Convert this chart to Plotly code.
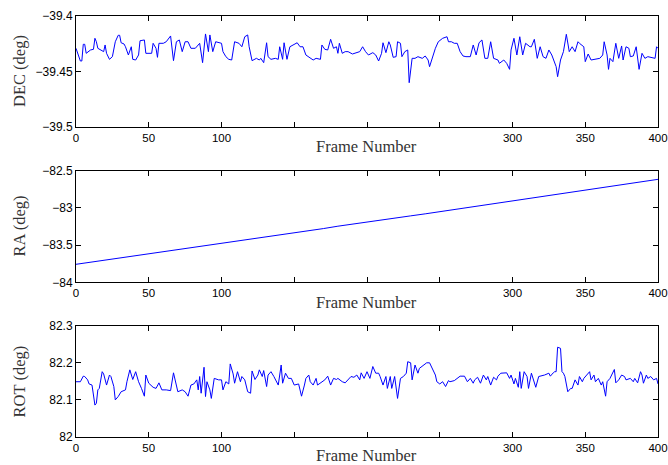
import plotly.graph_objects as go

# ---------------- data ----------------
dec_frames = [0,3,4,5,6,7,10,12,13,14,15,17,19,20,21,23,25,27,29,30,31,33,34,36,38,39,41,43,44,47,48,52,53,55,56,57,60,62,65,67,69,71,73,75,77,79,82,85,87,89,91,92,94,96,99,100,101,103,105,107,109,112,114,116,118,119,121,123,124,126,127,129,131,132,134,137,139,140,142,143,145,147,149,152,154,156,158,161,163,165,168,169,171,173,175,177,179,180,181,183,185,187,190,195,197,199,201,204,206,208,210,211,213,215,216,218,220,221,223,224,226,228,229,231,233,235,238,240,242,243,245,247,249,251,252,255,256,258,260,262,264,266,268,271,272,273,275,277,279,281,283,285,287,290,291,294,296,298,299,301,303,305,307,309,312,313,315,317,319,321,323,325,327,328,330,331,333,335,337,339,341,343,345,346,349,350,352,354,358,360,362,363,365,366,367,369,371,373,375,376,378,380,381,383,385,387,389,391,393,395,398,399,400]
dec_values = [-39.4293,-39.4407,-39.4407,-39.4257,-39.4257,-39.4338,-39.4308,-39.4302,-39.4203,-39.4234,-39.4293,-39.4308,-39.4323,-39.4263,-39.4338,-39.4392,-39.4368,-39.4234,-39.4176,-39.4176,-39.4243,-39.4254,-39.4279,-39.4353,-39.4279,-39.4392,-39.4398,-39.4353,-39.4225,-39.4218,-39.4338,-39.4338,-39.4248,-39.4293,-39.4374,-39.4248,-39.4248,-39.4234,-39.4182,-39.4404,-39.4234,-39.4218,-39.4323,-39.4234,-39.4234,-39.4293,-39.4293,-39.4248,-39.4422,-39.4164,-39.4323,-39.4173,-39.4323,-39.4234,-39.4248,-39.4248,-39.4323,-39.4368,-39.4392,-39.4398,-39.4234,-39.4248,-39.4279,-39.4189,-39.4173,-39.4279,-39.4404,-39.4392,-39.4383,-39.4398,-39.4383,-39.4422,-39.4243,-39.4368,-39.4392,-39.4383,-39.4392,-39.4279,-39.4392,-39.4243,-39.4392,-39.4279,-39.4263,-39.4243,-39.4279,-39.4279,-39.4353,-39.4383,-39.4398,-39.4383,-39.4392,-39.4263,-39.4302,-39.4308,-39.4212,-39.4293,-39.4279,-39.4338,-39.4248,-39.4338,-39.4323,-39.4323,-39.4344,-39.4323,-39.4279,-39.4323,-39.4353,-39.4332,-39.4353,-39.4407,-39.4338,-39.4243,-39.4332,-39.4234,-39.4263,-39.4374,-39.4368,-39.4234,-39.4248,-39.4368,-39.4323,-39.4308,-39.4602,-39.4383,-39.4383,-39.4368,-39.4383,-39.4362,-39.4398,-39.4458,-39.4368,-39.4293,-39.4234,-39.4212,-39.4203,-39.4189,-39.4234,-39.4234,-39.4248,-39.4248,-39.4323,-39.4362,-39.4368,-39.4368,-39.4308,-39.4263,-39.4353,-39.4243,-39.4218,-39.4383,-39.4383,-39.4234,-39.4383,-39.4398,-39.4428,-39.4398,-39.4428,-39.4482,-39.4308,-39.4203,-39.4353,-39.4189,-39.4353,-39.4248,-39.4279,-39.4279,-39.4212,-39.4383,-39.4279,-39.4368,-39.4383,-39.4308,-39.4353,-39.4392,-39.4458,-39.4548,-39.4398,-39.4323,-39.4167,-39.4323,-39.4279,-39.4323,-39.4234,-39.4248,-39.4279,-39.4413,-39.4344,-39.4398,-39.4392,-39.4383,-39.4353,-39.4234,-39.4353,-39.4482,-39.4383,-39.4413,-39.4248,-39.4383,-39.4272,-39.4398,-39.4279,-39.4293,-39.4368,-39.4362,-39.4279,-39.4482,-39.4338,-39.4383,-39.4368,-39.4374,-39.4383,-39.4279,-39.4293]

ra_frames = [0,10,20,30,40,50,60,70,80,90,100,110,120,130,140,150,160,170,180,190,200,210,220,230,240,250,260,270,280,290,300,310,320,330,340,350,360,370,380,390,400]
ra_values = [-83.758,-83.730,-83.703,-83.672,-83.650,-83.618,-83.592,-83.563,-83.536,-83.507,-83.476,-83.452,-83.420,-83.393,-83.368,-83.333,-83.305,-83.278,-83.246,-83.220,-83.190,-83.163,-83.133,-83.107,-83.080,-83.051,-83.022,-82.994,-82.964,-82.937,-82.907,-82.878,-82.849,-82.818,-82.790,-82.759,-82.730,-82.700,-82.672,-82.645,-82.616]

rot_frames = [0,3,5,6,8,9,11,13,14,15,16,18,19,21,23,24,26,27,29,31,34,35,37,38,39,41,43,45,47,48,50,53,55,57,59,62,65,67,68,70,73,75,77,79,81,83,84,85,86,88,89,90,92,93,95,98,100,101,103,105,106,108,109,111,113,114,116,118,120,121,123,125,126,128,129,131,132,134,136,137,139,141,142,144,146,148,150,153,155,157,158,160,161,163,165,166,169,171,173,175,177,179,180,183,185,187,189,191,193,195,196,198,200,202,204,206,208,209,211,213,214,216,217,219,221,223,225,227,228,230,231,233,235,236,239,241,243,245,247,248,250,252,254,256,257,260,262,264,267,269,271,273,274,276,278,280,282,283,285,287,289,290,292,294,296,298,299,301,302,304,305,306,308,310,311,313,314,316,318,320,322,325,326,328,329,330,331,333,334,335,336,338,340,341,343,345,346,348,349,351,353,354,356,357,359,361,362,364,365,367,369,370,371,373,375,377,378,381,383,384,386,388,389,390,392,393,395,397,399,400]
rot_values = [82.149,82.149,82.164,82.163,82.154,82.143,82.140,82.086,82.091,82.127,82.131,82.176,82.170,82.140,82.167,82.163,82.136,82.100,82.109,82.122,82.127,82.149,82.181,82.167,82.155,82.176,82.149,82.131,82.110,82.167,82.145,82.134,82.131,82.146,82.127,82.127,82.125,82.173,82.154,82.122,82.127,82.122,82.110,82.140,82.143,82.154,82.127,82.163,82.118,82.188,82.109,82.149,82.127,82.104,82.158,82.154,82.154,82.127,82.149,82.143,82.197,82.170,82.145,82.176,82.149,82.163,82.154,82.122,82.118,82.178,82.155,82.167,82.181,82.163,82.179,82.136,82.167,82.176,82.163,82.154,82.140,82.194,82.145,82.172,82.158,82.158,82.140,82.143,82.110,82.140,82.158,82.167,82.149,82.140,82.158,82.140,82.149,82.154,82.164,82.140,82.158,82.155,82.158,82.149,82.146,82.154,82.163,82.161,82.167,82.154,82.173,82.158,82.176,82.158,82.190,82.172,82.172,82.163,82.140,82.163,82.131,82.163,82.131,82.163,82.104,82.158,82.163,82.172,82.203,82.200,82.154,82.194,82.172,82.185,82.194,82.200,82.200,82.185,82.167,82.149,82.143,82.149,82.136,82.152,82.149,82.152,82.158,82.164,82.164,82.149,82.158,82.145,82.154,82.161,82.145,82.167,82.154,82.163,82.140,82.161,82.154,82.164,82.172,82.172,82.173,82.158,82.167,82.143,82.158,82.134,82.176,82.131,82.176,82.163,82.131,82.172,82.158,82.134,82.163,82.164,82.167,82.172,82.164,82.173,82.176,82.176,82.242,82.239,82.176,82.172,82.163,82.122,82.131,82.131,82.154,82.140,82.163,82.149,82.158,82.167,82.176,82.154,82.167,82.149,82.158,82.140,82.149,82.110,82.149,82.158,82.176,82.182,82.146,82.154,82.167,82.163,82.154,82.158,82.149,82.158,82.146,82.176,82.167,82.145,82.167,82.158,82.163,82.154,82.158,82.143]

x_tickvals = [0, 50, 100, 150, 200, 250, 300, 350, 400]
x_ticktext = ["0", "50", "100", "", "", "", "300", "350", "400"]

dec_tickvals = [-39.5, -39.45, -39.4]
dec_ticktext = ["\u221239.5", "\u221239.45", "\u221239.4"]
ra_tickvals = [-84, -83.5, -83, -82.5]
ra_ticktext = ["\u221284", "\u221283.5", "\u221283", "\u221282.5"]
rot_tickvals = [82, 82.1, 82.2, 82.3]
rot_ticktext = ["82", "82.1", "82.2", "82.3"]

y_titles = ["DEC (deg)", "RA (deg)", "ROT (deg)"]
x_title = "Frame Number"

# ---------------- figure ----------------
W, H = 668, 465
line = dict(color="#0000ff", width=1)

fig = go.Figure()
fig.add_trace(go.Scatter(x=dec_frames, y=dec_values, mode="lines", line=line, xaxis="x", yaxis="y", showlegend=False))
fig.add_trace(go.Scatter(x=ra_frames, y=ra_values, mode="lines", line=line, xaxis="x2", yaxis="y2", showlegend=False))
fig.add_trace(go.Scatter(x=rot_frames, y=rot_values, mode="lines", line=line, xaxis="x3", yaxis="y3", showlegend=False))

def px_x(x):
    return x / W

def px_y(y):
    return 1 - y / H

x_dom = [px_x(76), px_x(658)]
def ydom(top_px, bot_px):
    return [px_y(bot_px), px_y(top_px)]

tickfont = dict(family="Liberation Sans, Arial, sans-serif", size=12, color="black")
xtickfont = dict(family="Liberation Sans, Arial, sans-serif", size=11.5, color="black")
common_x = dict(range=[0, 400], tickvals=x_tickvals, ticktext=x_ticktext, ticks="inside", ticklen=5,
                tickcolor="black", showline=True, linecolor="black", linewidth=1, mirror="ticks",
                showgrid=False, zeroline=False, tickfont=xtickfont, domain=x_dom, automargin=False,
                ticklabeloverflow="allow")
common_y = dict(ticks="inside", ticklen=5, tickcolor="black", showline=True, linecolor="black",
                linewidth=1, mirror="ticks", showgrid=False, zeroline=False, tickfont=tickfont,
                automargin=False, ticklabeloverflow="allow")

fig.update_layout(
    width=W, height=H, margin=dict(l=0, r=0, t=0, b=0, autoexpand=False),
    paper_bgcolor="white", plot_bgcolor="white",
    xaxis=dict(common_x, anchor="y"),
    xaxis2=dict(common_x, anchor="y2"),
    xaxis3=dict(common_x, anchor="y3"),
    yaxis=dict(common_y, anchor="x", domain=ydom(15.7, 127), range=[-39.5, -39.4],
               tickvals=dec_tickvals, ticktext=dec_ticktext),
    yaxis2=dict(common_y, anchor="x2", domain=ydom(170.7, 282.3), range=[-84, -82.5],
                tickvals=ra_tickvals, ticktext=ra_ticktext),
    yaxis3=dict(common_y, anchor="x3", domain=ydom(325.7, 437), range=[82, 82.3],
                tickvals=rot_tickvals, ticktext=rot_ticktext),
)

title_font = dict(family="Liberation Serif, Times New Roman, serif", size=16.5, color="#333333")
y_centers = [71, 226.5, 381.4]
x_label_y = [146, 302.5, 455]
for t, yc in zip(y_titles, y_centers):
    fig.add_annotation(text=t, xref="paper", yref="paper", x=px_x(19), y=px_y(yc),
                       xanchor="center", yanchor="middle", textangle=-90, showarrow=False,
                       font=title_font)
for yc in x_label_y:
    fig.add_annotation(text=x_title, xref="paper", yref="paper", x=px_x(366), y=px_y(yc),
                       xanchor="center", yanchor="middle", showarrow=False, font=title_font)

# remove the default page margin so the 668x465 figure fills the window exactly
fig.write_html("out.html", config={"displayModeBar": False},
               post_script="document.body.style.margin='0';document.body.style.overflow='hidden';")
